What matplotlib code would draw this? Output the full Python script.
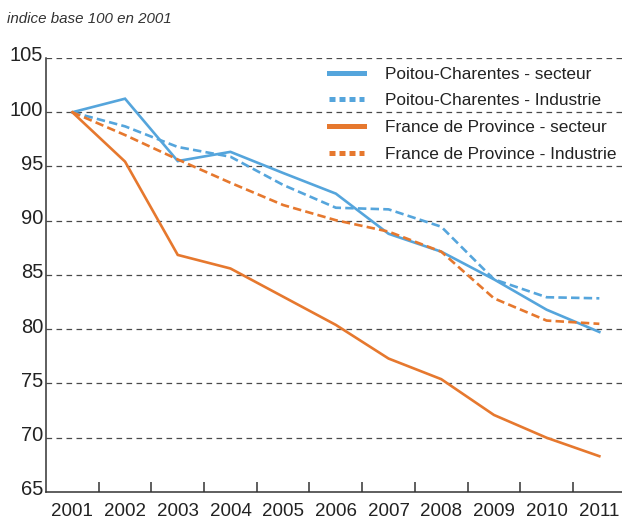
import matplotlib
matplotlib.use('Agg')
import matplotlib.pyplot as plt
import matplotlib.transforms as mtransforms
from matplotlib.lines import Line2D
import numpy as np

# data (index base 100 in 2001)
years = ['2001', '2002', '2003', '2004', '2005', '2006', '2007', '2008', '2009', '2010', '2011']
pc_secteur = [100, 101.25, 95.5, 96.35, 94.4, 92.5, 88.8, 87.15, 84.6, 81.8, 79.75]
pc_industrie = [100, 98.7, 96.8, 95.9, 93.3, 91.2, 91.05, 89.45, 84.6, 82.95, 82.85]
fp_secteur = [100, 95.45, 86.85, 85.6, 83.0, 80.4, 77.3, 75.4, 72.1, 70.0, 68.3]
fp_industrie = [100, 97.9, 95.65, 93.5, 91.45, 90.05, 89.0, 87.15, 82.85, 80.8, 80.5]
labels = ['Poitou-Charentes - secteur', 'Poitou-Charentes - Industrie',
          'France de Province - secteur', 'France de Province - Industrie']
yticks = [65, 70, 75, 80, 85, 90, 95, 100, 105]

blue = '#55A5DC'
orange = '#E6782E'
txt = '#222222'

plt.rcParams['font.family'] = ['Liberation Sans', 'DejaVu Sans']

fig = plt.figure(figsize=(6.22, 5.23), dpi=100)
ax = fig.add_axes([46/622, 31/523, 576/622, 434/523])

x = np.arange(len(years))
lw = 1.9
ax.plot(x, pc_secteur, color=blue, lw=lw, solid_joinstyle='miter')
ax.plot(x, pc_industrie, color=blue, lw=lw, dashes=(3.2, 1.6))
ax.plot(x, fp_secteur, color=orange, lw=lw, solid_joinstyle='miter')
ax.plot(x, fp_industrie, color=orange, lw=lw, dashes=(3.2, 1.6))

ax.set_xlim(-0.5, 10.43)
ax.set_ylim(65, 105)

# dashed horizontal gridlines
for v in yticks[1:]:
    ax.axhline(v, color='#4a4a4a', lw=0.9, dashes=(4.5, 3.5), zorder=0)

for s in ['top', 'right']:
    ax.spines[s].set_visible(False)
for s in ['left', 'bottom']:
    ax.spines[s].set_color('#333333')
    ax.spines[s].set_linewidth(1.1)

ax.set_yticks(yticks)
ax.set_yticklabels([str(v) for v in yticks])
ax.tick_params(axis='y', length=0, pad=2, labelsize=14.5, labelcolor=txt)
offset = mtransforms.ScaledTranslation(0, 3/72, fig.dpi_scale_trans)
for lab in ax.get_yticklabels():
    lab.set_transform(lab.get_transform() + offset)

ax.set_xticks(x)
ax.set_xticklabels(years)
ax.set_xticks(np.arange(0.5, 10, 1), minor=True)
ax.tick_params(axis='x', which='major', length=0, pad=8, labelsize=13.5, labelcolor=txt)
ax.tick_params(axis='x', which='minor', direction='in', length=7.5, width=1.1, color='#333333')

fig.text(7/622, 1 - 19/523, 'indice base 100 en 2001', style='italic', fontsize=10.9,
         color='#333333', va='center', ha='left')

handles = [Line2D([], [], color=blue, lw=3.6),
           Line2D([], [], color=blue, lw=3.6, dashes=(1.2, 0.8)),
           Line2D([], [], color=orange, lw=3.6),
           Line2D([], [], color=orange, lw=3.6, dashes=(1.2, 0.8))]
ax.legend(handles, labels, loc='upper left', bbox_to_anchor=(320/622, 1 - 58/523),
          bbox_transform=fig.transFigure, frameon=False, fontsize=12.4,
          handlelength=2.05, handletextpad=1.25, labelspacing=0.68,
          borderpad=0, labelcolor=txt)

fig.savefig('out.png', dpi=100)
